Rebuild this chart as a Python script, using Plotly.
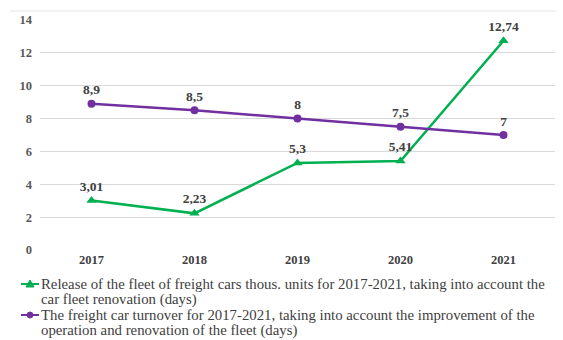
import plotly.graph_objects as go

years = ["2017", "2018", "2019", "2020", "2021"]
fleet_release = [3.01, 2.23, 5.3, 5.41, 12.74]
car_turnover = [8.9, 8.5, 8.0, 7.5, 7.0]
y_ticks = [0, 2, 4, 6, 8, 10, 12, 14]

legend_release = ["Release of the fleet of freight cars thous. units for 2017-2021, taking into account the",
                  "car fleet renovation (days)"]
legend_turnover = ["The freight car turnover for 2017-2021, taking into account the improvement of the",
                   "operation and renovation of the fleet (days)"]

GREEN = "#00B050"
PURPLE = "#7030A0"
SERIF = "Liberation Serif, Times New Roman, serif"

W, H = 563, 340
L, R, T, B = 40, 8, 20, 90
PW, PH = W - L - R, H - T - B


def px_x(px):
    return (px - L) / PW


def px_y(py):
    return (H - B - py) / PH


def fmt(v):
    s = f"{v:.2f}".rstrip("0").rstrip(".")
    return s.replace(".", ",")


fig = go.Figure()
for vals, color, symbol, size in [(fleet_release, GREEN, "triangle-up", 9),
                                  (car_turnover, PURPLE, "circle", 8)]:
    fig.add_trace(go.Scatter(
        x=years, y=vals, mode="lines+markers+text", showlegend=False,
        line=dict(color=color, width=2.5),
        marker=dict(symbol=symbol, size=size, color=color),
        text=[f"<b>{fmt(v)}</b>" for v in vals], textposition="top center",
        textfont=dict(family=SERIF, size=13.5, color="#404040"),
        cliponaxis=False,
    ))

# Legend drawn as tight-leading text lines with small line+marker glyphs
annotations = []
shapes = [dict(type="line", xref="paper", yref="paper", x0=px_x(10), x1=px_x(556),
               y0=px_y(11), y1=px_y(11), line=dict(color="#E4E4E4", width=1))]
rows = [(legend_release, GREEN, "tri", 284), (legend_turnover, PURPLE, "dot", 315)]
for lines, color, glyph, y0 in rows:
    for i, line in enumerate(lines):
        annotations.append(dict(
            xref="paper", yref="paper", x=px_x(39), y=px_y(y0 + i * 15.7),
            xanchor="left", yanchor="middle", showarrow=False, text=line,
            font=dict(family=SERIF, size=14.8, color="#404040"),
        ))
    shapes.append(dict(type="line", xref="paper", yref="paper",
                       x0=px_x(21), x1=px_x(39), y0=px_y(y0), y1=px_y(y0),
                       line=dict(color=color, width=2)))
    if glyph == "tri":
        cx, cy = 30, y0
        path = (f"M {px_x(cx - 4)},{px_y(cy + 3)} L {px_x(cx + 4)},{px_y(cy + 3)} "
                f"L {px_x(cx)},{px_y(cy - 4)} Z")
        shapes.append(dict(type="path", xref="paper", yref="paper", path=path,
                           fillcolor=color, line=dict(color=color, width=1)))
    else:
        shapes.append(dict(type="circle", xref="paper", yref="paper",
                           x0=px_x(27), x1=px_x(33), y0=px_y(y0 + 3), y1=px_y(y0 - 3),
                           fillcolor=color, line=dict(color=color, width=1)))

fig.update_layout(
    width=W, height=H,
    margin=dict(l=L, r=R, t=T, b=B, autoexpand=False),
    paper_bgcolor="white", plot_bgcolor="white",
    font=dict(family=SERIF, color="#404040"),
    showlegend=False,
    xaxis=dict(type="category", range=[-0.5, len(years) - 0.5],
               tickvals=years, ticktext=[f"<b>{y}</b>" for y in years],
               showgrid=False, showline=False, ticks="",
               tickfont=dict(family=SERIF, size=12.5, color="#404040")),
    yaxis=dict(range=[0, 14], tickvals=y_ticks, ticktext=[f"<b>{t}</b>" for t in y_ticks],
               showgrid=True, gridcolor="#D9D9D9",
               gridwidth=1, zeroline=False, showline=False, ticks="",
               ticklabelstandoff=7,
               tickfont=dict(family=SERIF, size=12.5, color="#595959")),
    annotations=annotations,
    shapes=shapes,
)

fig.write_html("out.html")
